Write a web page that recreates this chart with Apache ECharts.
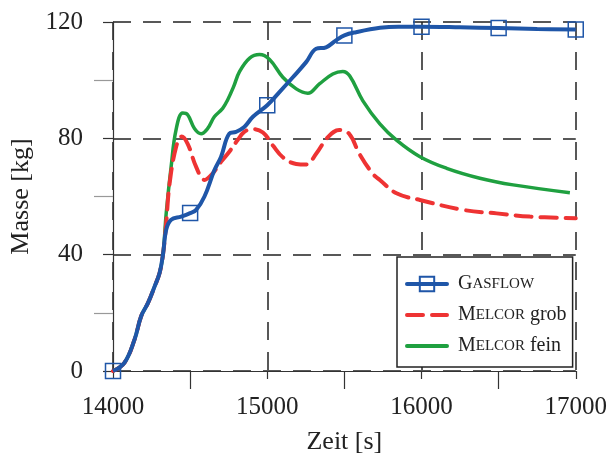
<!DOCTYPE html>
<html>
<head>
<meta charset="utf-8">
<script src="https://cdn.jsdelivr.net/npm/echarts@6/dist/echarts.min.js"></script>
<style>
  html, body { margin: 0; padding: 0; background: #fff; }
  #chart { width: 610px; height: 462px; }
</style>
</head>
<body>
<div id="chart"></div>
<script>
// Masse über Zeit: GASFLOW vs. MELCOR (grob / fein)
var gasT = [14000, 14075, 14140, 14183, 14227, 14270, 14302, 14324, 14345, 14377, 14442, 14500,
  14539, 14593, 14657, 14700, 14754, 14797, 14851, 14907, 15000, 15079, 15166, 15252, 15317,
  15381, 15446, 15500, 15576, 15731, 15850, 16000, 16250, 16500, 16750, 17000];
var gasY = [0, 2.9, 10.9, 18.9, 23.4, 29.1, 33.7, 40, 48.6, 52, 53.1, 54.3,
  55.4, 60, 69, 73.6, 81.6, 82.2, 83.9, 87.4, 91.4, 95.9, 101, 106.2, 110.8,
  111.3, 113.7, 115.4, 116.5, 118, 118.4, 118.4, 118.2, 117.9, 117.6, 117.4];
var gasMarks = [14000, 14500, 15000, 15500, 16000, 16500, 17000];

var grobT = [14000, 14075, 14140, 14183, 14227, 14270, 14302, 14324, 14345, 14367, 14409, 14445,
  14484, 14539, 14593, 14647, 14700, 14754, 14808, 14851, 14907, 14972, 15037, 15101, 15188,
  15252, 15317, 15393, 15467, 15532, 15597, 15683, 15730, 15838, 15990, 16271, 16487, 16702, 17000];
var grobY = [0, 2.9, 10.9, 18.9, 23.4, 29.1, 33.7, 40, 51, 64.5, 77, 80.6,
  78.1, 70.2, 65.7, 68, 71.9, 75.4, 79.4, 82.2, 83.2, 82, 77.5, 73.5, 71.2,
  71, 74.7, 80.4, 82.9, 81.5, 74.7, 67.9, 65.7, 61.1, 58.8, 55.4, 54.2, 53.1, 52.5];

var feinT = [14000, 14075, 14140, 14183, 14227, 14270, 14302, 14324, 14345, 14377, 14409, 14452,
  14484, 14528, 14571, 14614, 14657, 14711, 14743, 14780, 14821, 14886, 14950, 15015, 15101,
  15188, 15263, 15338, 15425, 15489, 15534, 15620, 15730, 15838, 15990, 16163, 16378, 16594, 16962];
var feinY = [0, 2.9, 10.9, 18.9, 23.4, 29.1, 33.7, 40, 54.3, 70.3, 83, 88.7,
  88.1, 83.4, 81.6, 83.4, 87.4, 90.3, 93.2, 97.5, 103, 107.6, 108.8, 107.1, 101,
  97, 95.5, 98.7, 102.1, 103, 101.5, 92.9, 85, 79.4, 73.7, 69.7, 66.3, 64, 61.3];

var BLUE = '#1f56a8', RED = '#ee3333', GREEN = '#1fa040';
var FONT = 'Liberation Serif';
var NOFILL = 'rgba(255,255,255,0)';

function pairs(ts, ys) {
  return ts.map(function (t, i) { return [t, ys[i]]; });
}
var gasData = gasT.map(function (t, i) {
  var d = { value: [t, gasY[i]] };
  if (gasMarks.indexOf(t) < 0) d.symbol = 'none';
  return d;
});

var rich = {
  b: { fontFamily: FONT, fontSize: 20, color: '#222', lineHeight: 24 },
  s: { fontFamily: FONT, fontSize: 15, color: '#222', lineHeight: 24 }
};
var legendText = {
  'GASFLOW': '{b|G}{s|ASFLOW}',
  'MELCOR grob': '{b|M}{s|ELCOR}{b| grob}',
  'MELCOR fein': '{b|M}{s|ELCOR}{b| fein}'
};

var chart = echarts.init(document.getElementById('chart'));
chart.setOption({
  animation: false,
  grid: { left: 113, right: 34, top: 22, bottom: 91 },
  xAxis: {
    type: 'value', min: 14000, max: 17000, interval: 1000,
    name: 'Zeit [s]', nameLocation: 'middle', nameGap: 58,
    nameTextStyle: { fontFamily: FONT, fontSize: 26, color: '#222' },
    axisLine: { lineStyle: { color: '#333', width: 1.2 } },
    axisTick: { length: 8, lineStyle: { color: '#333', width: 1.2 } },
    minorTick: { show: true, splitNumber: 2, length: 18, lineStyle: { color: '#333', width: 1.2 } },
    axisLabel: { fontFamily: FONT, fontSize: 25, color: '#222', margin: 24,
      formatter: function (v) { return String(v); } },
    splitLine: { show: true, lineStyle: { color: '#222', width: 1.5, type: [18, 12] } }
  },
  yAxis: {
    type: 'value', min: 0, max: 120, interval: 40,
    name: 'Masse [kg]', nameLocation: 'middle', nameGap: 78,
    nameTextStyle: { fontFamily: FONT, fontSize: 26, color: '#222' },
    axisLine: { show: true, lineStyle: { color: '#333', width: 1.2 } },
    axisTick: { show: true, length: 10, lineStyle: { color: '#333', width: 1.2 } },
    minorTick: { show: true, splitNumber: 2, length: 19, lineStyle: { color: '#999', width: 1.2 } },
    axisLabel: { fontFamily: FONT, fontSize: 25, color: '#222', margin: 30 },
    splitLine: { show: true, lineStyle: { color: '#222', width: 1.5, type: [18, 12] } }
  },
  legend: {
    orient: 'vertical', left: 397, top: 257,
    data: ['GASFLOW', 'MELCOR grob', 'MELCOR fein'],
    backgroundColor: '#fff', borderColor: '#222', borderWidth: 1.5, borderRadius: 0,
    padding: [17, 6, 11, 8], itemGap: 11, itemWidth: 40, itemHeight: 18,
    lineStyle: { width: 4, cap: 'round' },
    formatter: function (n) { return legendText[n]; },
    textStyle: { rich: rich, padding: [0, 0, 0, 6] }
  },
  series: [
    {
      name: 'MELCOR fein', type: 'line', data: pairs(feinT, feinY),
      smooth: 0.4, symbol: 'circle', showSymbol: false,
      lineStyle: { color: GREEN, width: 3.5 },
      itemStyle: { color: NOFILL, borderWidth: 0 }
    },
    {
      name: 'MELCOR grob', type: 'line', data: pairs(grobT, grobY),
      smooth: 0.4, symbol: 'circle', showSymbol: false,
      lineStyle: { color: RED, width: 4, type: [16, 9], cap: 'round' },
      itemStyle: { color: NOFILL, borderWidth: 0 }
    },
    {
      name: 'GASFLOW', type: 'line', data: gasData,
      smooth: 0.4, symbol: 'rect', symbolSize: 15,
      showSymbol: true, showAllSymbol: true,
      lineStyle: { color: BLUE, width: 4 },
      itemStyle: { color: NOFILL, borderColor: BLUE, borderWidth: 1.5 }
    }
  ]
});
</script>
</body>
</html>
